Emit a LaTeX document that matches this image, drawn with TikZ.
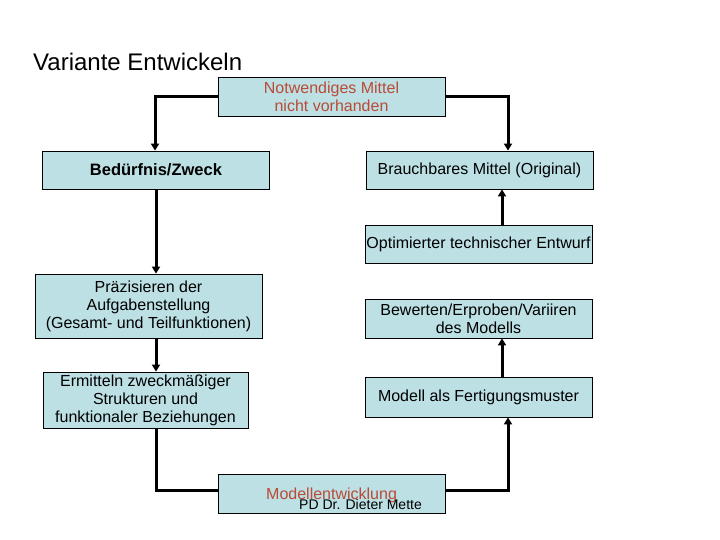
\documentclass[tikz,border=0pt]{standalone}
\usepackage{fontspec}
\setmainfont{Liberation Sans}
\usetikzlibrary{arrows.meta}
\definecolor{boxfill}{RGB}{188,224,228}
\definecolor{redtext}{RGB}{185,75,55}
\begin{document}
\begin{tikzpicture}[x=1pt,y=-1pt,
  box/.style={draw=black,line width=0.8pt,fill=boxfill,align=center,inner sep=0pt,font=\fontsize{16}{18}\selectfont},
  conn/.style={line width=3pt,-{Triangle[length=7pt,width=8pt]}},
  plain/.style={line width=3pt}]
\useasboundingbox (0,0) rectangle (720,540);
\node[anchor=west,inner sep=0pt,font=\fontsize{24}{28}\selectfont] (title) at (33,62) {Variante Entwickeln};
\node[box,minimum width=227,minimum height=39,text=redtext] (top) at (331.5,96.5) {Notwendiges Mittel\\nicht vorhanden};
\node[box,minimum width=227,minimum height=38,font=\fontsize{16.5}{18}\selectfont\bfseries] (bed) at (156,170) {Bedürfnis/Zweck};
\node[box,minimum width=227,minimum height=38] (brauch) at (479.5,170) {Brauchbares Mittel (Original)};
\node[box,minimum width=227,minimum height=38] (opt) at (478.5,244) {Optimierter technischer Entwurf};
\node[box,minimum width=227,minimum height=64] (prae) at (148.5,306) {Präzisieren der\\Aufgabenstellung\\(Gesamt- und Teilfunktionen)};
\node[box,minimum width=227,minimum height=39] (bew) at (478.5,318.5) {Bewerten/Erproben/Variiren\\des Modells};
\node[box,minimum width=205,minimum height=56] (erm) at (145.5,400) {Ermitteln zweckmäßiger\\Strukturen und\\funktionaler Beziehungen};
\node[box,minimum width=227,minimum height=40] (fert) at (478.5,397) {Modell als Fertigungsmuster};
\node[box,minimum width=227,minimum height=39] (mod) at (331.5,493.5) {};
\node[anchor=base west,inner sep=0pt,text=redtext,font=\fontsize{16}{18}\selectfont] (modt) at (266,499) {Modellentwicklung};
\node[anchor=base west,inner sep=0pt,font=\fontsize{14}{16}\selectfont] (pd) at (299,509) {PD Dr. Dieter Mette};
\coordinate (c1) at (155,96.5);
\coordinate (c2) at (508,96.5);
\coordinate (c3) at (156,490);
\coordinate (c4) at (508,490);
\draw[conn] (top.west) -- (c1) -- (c1 |- bed.north);
\draw[conn] (top.east) -- (c2) -- (c2 |- brauch.north);
\draw[conn] (bed.south -| c3) -- (c3 |- prae.north);
\draw[conn] (prae.south -| c3) -- (c3 |- erm.north);
\draw[plain] (erm.south -| c3) -- (c3) -- (mod.west |- c3);
\draw[conn] (mod.east |- c4) -- (c4) -- (c4 |- fert.south);
\draw[conn] (502,0 |- fert.north) -- (502,0 |- bew.south);
\draw[conn] (502,0 |- opt.north) -- (502,0 |- brauch.south);
\end{tikzpicture}
\end{document}
